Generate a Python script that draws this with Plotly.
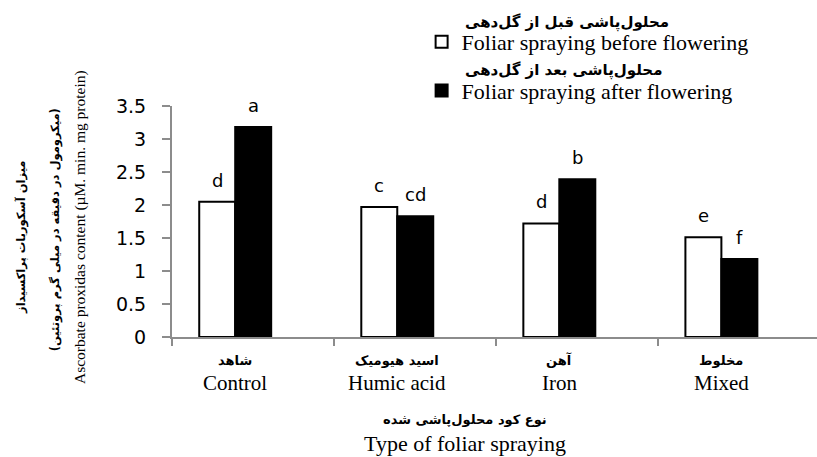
import plotly.graph_objects as go

categories_en = ["Control", "Humic acid", "Iron", "Mixed"]
categories_fa = ["شاهد", "اسید هیومیک", "آهن", "مخلوط"]
before_values = [2.05, 1.97, 1.72, 1.51]
after_values = [3.18, 1.83, 2.39, 1.18]
before_letters = ["d", "c", "d", "e"]
after_letters = ["a", "cd", "b", "f"]
y_ticks = [0, 0.5, 1, 1.5, 2, 2.5, 3, 3.5]
y_tick_labels = ["0", "0.5", "1", "1.5", "2", "2.5", "3", "3.5"]

series_before_fa = "محلول\u200cپاشی قبل از گل\u200cدهی"
series_after_fa = "محلول\u200cپاشی بعد از گل\u200cدهی"
series_before_en = "Foliar spraying before flowering"
series_after_en = "Foliar spraying after flowering"

x_title_fa = "نوع کود محلول\u200cپاشی شده"
x_title_en = "Type of foliar spraying"
y_title_fa1 = "میزان آسکوربات پراکسیداز"
y_title_fa2 = "(میکرومول در دقیقه در میلی گرم پروتئین)"
y_title_en = "Ascorbate proxidas content (µM. min. mg protein)"

SERIF = "Liberation Serif, Times New Roman, serif"
SANS = "DejaVu Sans, Verdana, sans-serif"
FA = "DejaVu Sans, Noto Sans, sans-serif"

x_pos = list(range(len(categories_en)))
half = 0.111

fig = go.Figure()
fig.add_trace(go.Bar(
    x=x_pos, y=before_values, name=series_before_en, legendgroup="before",
    marker=dict(color="white", line=dict(color="black", width=2)),
))
fig.add_trace(go.Bar(
    x=x_pos, y=after_values, name=series_after_en, legendgroup="after",
    marker=dict(color="black", line=dict(color="black", width=2)),
))

annotations = []
for i, (v, t) in enumerate(zip(before_values, before_letters)):
    annotations.append(dict(x=i - half, y=v, xref="x", yref="y", text=t,
                            showarrow=False, xanchor="center", yanchor="bottom", yshift=9,
                            font=dict(family=SANS, size=18, color="black")))
for i, (v, t) in enumerate(zip(after_values, after_letters)):
    annotations.append(dict(x=i + half, y=v, xref="x", yref="y", text=t,
                            showarrow=False, xanchor="center", yanchor="bottom", yshift=9,
                            font=dict(family=SANS, size=18, color="black")))

# category labels (Persian above English)
for i, (fa, en) in enumerate(zip(categories_fa, categories_en)):
    annotations.append(dict(x=i, y=-0.0996, xref="x", yref="paper",
                            text=f"<b>{fa}</b>", showarrow=False,
                            xanchor="center", yanchor="middle",
                            font=dict(family=FA, size=13, color="black")))
    annotations.append(dict(x=i, y=-0.199, xref="x", yref="paper",
                            text=en, showarrow=False,
                            xanchor="center", yanchor="middle",
                            font=dict(family=SERIF, size=21, color="black")))

# x title
annotations.append(dict(x=0.454, y=-0.355, xref="paper", yref="paper",
                        text=f"<b>{x_title_fa}</b>", showarrow=False,
                        xanchor="center", yanchor="middle",
                        font=dict(family=FA, size=13, color="black")))
annotations.append(dict(x=0.454, y=-0.463, xref="paper", yref="paper",
                        text=x_title_en, showarrow=False,
                        xanchor="center", yanchor="middle",
                        font=dict(family=SERIF, size=22, color="black")))

# y title lines
annotations.append(dict(x=-0.2326, y=0.433, xref="paper", yref="paper",
                        text=f"<b>{y_title_fa1}</b>", textangle=-90, showarrow=False,
                        xanchor="center", yanchor="middle",
                        font=dict(family=FA, size=11.5, color="black")))
annotations.append(dict(x=-0.181, y=0.463, xref="paper", yref="paper",
                        text=f"<b>{y_title_fa2}</b>", textangle=-90, showarrow=False,
                        xanchor="center", yanchor="middle",
                        font=dict(family=FA, size=11.5, color="black")))
annotations.append(dict(x=-0.1426, y=0.476, xref="paper", yref="paper",
                        text=y_title_en, textangle=-90, showarrow=False,
                        xanchor="center", yanchor="middle",
                        font=dict(family=SERIF, size=15.5, color="black")))

# Persian legend lines above English entries
annotations.append(dict(x=0.4514, y=1.36, xref="paper", yref="paper",
                        text=f"<b>{series_before_fa}</b>", showarrow=False,
                        xanchor="left", yanchor="middle",
                        font=dict(family=FA, size=15, color="black")))
annotations.append(dict(x=0.4514, y=1.153, xref="paper", yref="paper",
                        text=f"<b>{series_after_fa}</b>", showarrow=False,
                        xanchor="left", yanchor="middle",
                        font=dict(family=FA, size=15, color="black")))

fig.update_layout(
    width=817, height=457,
    margin=dict(l=172, r=0, t=106, b=120, autoexpand=False),
    paper_bgcolor="white", plot_bgcolor="white",
    barmode="group", bargap=0.556, bargroupgap=0,
    showlegend=True,
    legend=dict(x=0.387, y=1.368, xanchor="left", yanchor="top",
                font=dict(family=SERIF, size=22, color="black"),
                bgcolor="rgba(0,0,0,0)", itemclick=False, tracegroupgap=17),
    annotations=annotations,
    xaxis=dict(range=[-0.39, 3.59], showgrid=False, zeroline=False,
               showline=True, linecolor="#8c8c8c", linewidth=2,
               tickmode="array", tickvals=[-0.39, 0.61, 1.61, 2.61],
               ticktext=["", "", "", ""], ticks="outside", ticklen=7,
               tickcolor="#8c8c8c", tickwidth=2, fixedrange=True),
    yaxis=dict(range=[0, 3.5], showgrid=False, zeroline=False,
               showline=True, linecolor="#8c8c8c", linewidth=2,
               tickmode="array", tickvals=y_ticks, ticktext=y_tick_labels,
               ticks="outside", ticklen=8, tickcolor="#8c8c8c", tickwidth=2,
               ticklabelstandoff=12,
               tickfont=dict(family=SANS, size=19, color="black"),
               fixedrange=True),
)

fig.write_html("out.html",
               config={"displayModeBar": False},
               post_script="document.body.style.margin='0';document.body.style.overflow='hidden';")
